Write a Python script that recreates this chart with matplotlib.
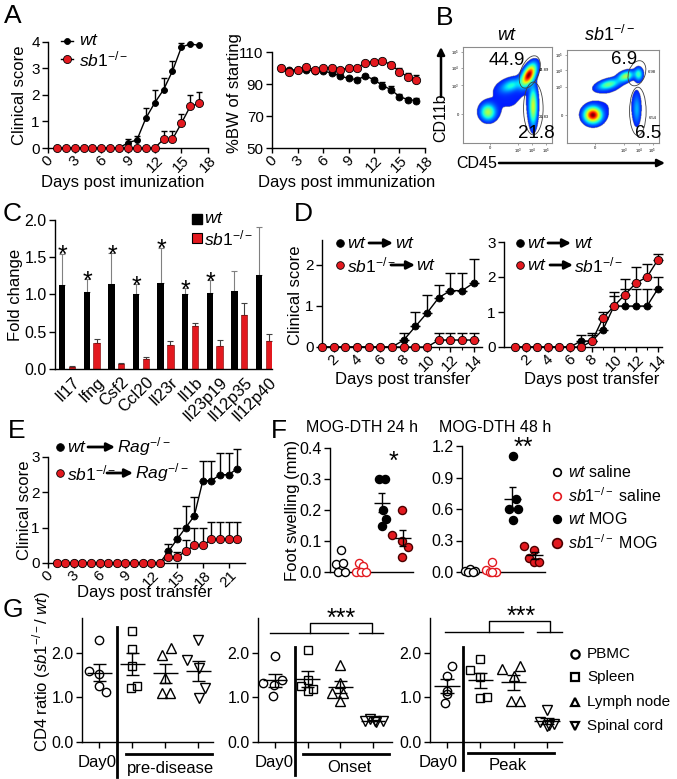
import numpy as np
import matplotlib.pyplot as plt
from matplotlib.patches import Ellipse

plt.rcParams['font.family'] = ['Liberation Sans', 'DejaVu Sans']
plt.rcParams['mathtext.fontset'] = 'custom'
plt.rcParams['mathtext.rm'] = 'Liberation Sans'
plt.rcParams['mathtext.it'] = 'Liberation Sans:italic'
plt.rcParams['mathtext.bf'] = 'Liberation Sans:bold'
plt.rcParams['axes.linewidth'] = 1.0

RED = '#e3191f'
KO = r'$sb1^{-/-}$'

# ---------------- data ----------------
# A  clinical score / body weight
a_days = list(range(1, 18))
a_score_wt = [0, 0, 0, 0, 0, 0, 0, 0, 0.2, 0.3, 1.12, 1.7, 2.2, 2.9, 3.8, 3.93, 3.87]
a_score_wt_err = [0, 0, 0, 0, 0, 0, 0, 0, 0.15, 0.15, 0.4, 0.5, 0.45, 0.38, 0.17, 0, 0]
a_score_ko = [0] * 12 + [0.33, 0.33, 0.93, 1.57, 1.68]
a_score_ko_err = [0] * 12 + [0.31, 0.31, 0.37, 0.43, 0.42]
a_bw_wt = [100, 98.5, 99, 99, 98, 98, 97, 95, 93.5, 92.7, 95, 92.7, 89, 86.5, 82, 80.3, 79.6]
a_bw_wt_err = [0, 0, 0, 0, 0, 0, 0, 0.5, 0.6, 0.8, 0.8, 1.3, 2.0, 2.0, 1.5, 1.2, 1.4]
a_bw_ko = [100, 97.8, 99, 100.5, 99, 100, 100, 99, 100, 100, 103.4, 104, 104.6, 102, 97.8, 94.3, 92.7]
a_bw_ko_err = [0] * 12 + [0.9, 1.5, 2.0, 2.5, 3.0]

# B  flow cytometry populations (x = CD45, y = CD11b, axes units)
b_wt_cells = [(0.28, 0.32, 0.055, 0.055, 0, 0.5),
              (0.74, 0.71, 0.08, 0.04, 60, 1.0),
              (0.54, 0.60, 0.08, 0.04, 20, 0.28),
              (0.79, 0.38, 0.03, 0.13, 0, 0.55),
              (0.50, 0.48, 0.22, 0.18, 0, 0.06)]
b_ko_cells = [(0.28, 0.30, 0.06, 0.055, 0, 1.0),
              (0.45, 0.63, 0.08, 0.032, 15, 0.4),
              (0.64, 0.72, 0.055, 0.032, 20, 0.5),
              (0.78, 0.74, 0.03, 0.045, 0, 0.35),
              (0.76, 0.36, 0.028, 0.11, 0, 0.2),
              (0.50, 0.45, 0.22, 0.18, 0, 0.05)]
b_wt_gates = [(0.75, 0.74, 0.36, 0.2, 65), (0.79, 0.36, 0.22, 0.55, 0)]
b_ko_gates = [(0.76, 0.75, 0.28, 0.18, 70), (0.77, 0.34, 0.18, 0.52, 0)]
b_wt_pct = ['44.9', '21.8', '44.89', '21.83']
b_ko_pct = ['6.9', '6.5', '6.98', '6.54']

# C  qPCR
c_genes = ['Il17', 'Ifng', 'Csf2', 'Ccl20', 'Il23r', 'Il1b', 'Il23p19', 'Il12p35', 'Il12p40']
c_wt = [1.13, 1.03, 1.14, 1.01, 1.16, 1.00, 1.02, 1.05, 1.26]
c_wt_err = [0.42, 0.18, 0.42, 0.13, 0.47, 0.09, 0.17, 0.27, 0.64]
c_ko = [0.03, 0.35, 0.07, 0.14, 0.32, 0.58, 0.31, 0.72, 0.37]
c_ko_err = [0.01, 0.05, 0.015, 0.02, 0.05, 0.04, 0.08, 0.17, 0.10]
c_sig = ['*'] * 7 + ['', '']

# D  adoptive transfer
d_days = list(range(1, 15))
d1_wt = [0] * 7 + [0.17, 0.5, 0.83, 1.2, 1.37, 1.37, 1.56]
d1_wt_err = [0] * 7 + [0.17, 0.35, 0.44, 0.3, 0.44, 0.44, 0.58]
d1_ko = [0] * 10 + [0.17] * 4
d1_ko_err = [0] * 10 + [0.17] * 4
d2_wt = [0] * 6 + [0.17, 0.17, 0.5, 1.17, 1.17, 1.17, 1.17, 1.67]
d2_wt_err = [0] * 6 + [0.17, 0.17, 0.3, 0.4, 0.5, 0.5, 0.5, 0.33]
d2_ko = [0] * 7 + [0.17, 0.83, 1.17, 1.5, 1.83, 2.0, 2.5]
d2_ko_err = [0] * 7 + [0.24, 0.17, 0.3, 0.44, 0.46, 0.37, 0.17]

# E  transfer into Rag-/-
e_days = list(range(1, 23))
e_wt = [0] * 13 + [0.33, 0.67, 1.0, 1.33, 2.33, 2.33, 2.5, 2.5, 2.67]
e_wt_err = [0] * 13 + [0.2, 0.33, 0.6, 0.55, 0.55, 0.55, 0.6, 0.6, 0.55]
e_ko = [0] * 13 + [0.17, 0.17, 0.33, 0.5, 0.5, 0.67, 0.67, 0.67, 0.67]
e_ko_err = [0] * 13 + [0, 0.15, 0.33, 0.5, 0.5, 0.5, 0.5, 0.5, 0.5]

# F  DTH foot swelling (groups: wt saline, sb1 saline, wt MOG, sb1 MOG)
f24_off = [[0.03, -0.2, 0.15, -0.12, 0.22], [-0.1, 0.1, -0.25, 0.0, 0.25],
           [-0.15, 0.13, 0.05, 0.2, 0.0], [-0.05, -0.49, -0.05, 0.25, -0.05]]
f24_val = [[0.07, 0.025, 0.03, 0.0, 0.0], [0.03, 0.02, 0.0, 0.0, 0.0],
           [0.30, 0.30, 0.20, 0.17, 0.15], [0.20, 0.12, 0.10, 0.08, 0.05]]
f48_off = [[-0.12, 0.1, 0.32, 0.0, 0.22], [0.08, -0.2, 0.0, 0.25, 0.08],
           [0.03, 0.16, -0.15, 0.25, 0.03], [-0.48, -0.04, -0.26, -0.04, 0.19]]
f48_val = [[0.01, 0.03, 0.01, 0.0, 0.0], [0.1, 0.02, 0.0, 0.0, 0.0],
           [1.1, 0.7, 0.6, 0.6, 0.5], [0.25, 0.21, 0.13, 0.1, 0.1]]

# G  CD4 ratio (tissues: PBMC, Spleen, Lymph node, Spinal cord)
g_tissues = ['PBMC', 'Spleen', 'Lymph node', 'Spinal cord']
g_pre_val = [[2.28, 1.6, 1.53, 1.26, 1.12], [2.48, 2.08, 1.71, 1.22, 1.25],
             [1.95, 2.1, 1.44, 1.1, 1.1], [2.28, 1.84, 1.66, 1.21, 0.99]]
g_pre_off = [[0, -0.32, 0, 0.0, 0.2], [0, 0, 0, -0.03, 0.15],
             [-0.1, 0.17, 0, -0.1, 0.15], [0, -0.35, 0.03, 0.2, 0.03]]
g_on_val = [[1.32, 1.92, 1.28, 1.39, 1.03], [2.07, 1.26, 1.19, 1.15, 1.39],
            [1.73, 1.1, 1.1, 0.91, 1.33], [0.52, 0.48, 0.48, 0.46, 0.44]]
g_on_off = [[-0.36, 0, -0.03, 0.2, -0.05], [0, -0.2, 0.16, 0, 0],
            [0, -0.25, 0.07, 0, 0], [-0.1, -0.25, 0.05, 0.3, 0.1]]
g_pk_val = [[1.7, 1.47, 1.15, 1.08, 0.87], [1.62, 1.86, 1.45, 0.98, 1.01],
            [1.63, 1.71, 1.47, 0.93, 0.93], [0.72, 0.45, 0.35, 0.4, 0.38]]
g_pk_off = [[0.14, 0, 0, 0, -0.06], [-0.32, 0, 0, -0.02, 0.2],
            [-0.34, 0.19, 0, -0.07, 0.19], [0, -0.22, 0, 0.22, 0.05]]
g_marks = ['o', 's', '^', 'v']

# ---------------- figure ----------------
W, H = 677, 779
fig = plt.figure(figsize=(W / 100, H / 100), dpi=100)
TCK = 11.5
LAB = 12


def box(l, t, r, b):
    return fig.add_axes([l / W, 1 - b / H, (r - l) / W, (b - t) / H])


def style(ax, size=TCK):
    for s in ['top', 'right']:
        ax.spines[s].set_visible(False)
    ax.tick_params(labelsize=size, length=4, width=1, pad=2)


def curve(ax, x, y, err, color, ms, cap, z):
    x, y, err = np.asarray(x, float), np.asarray(y, float), np.asarray(err, float)
    m = err > 0
    ax.errorbar(x[m], y[m], yerr=[np.zeros(m.sum()), err[m]], fmt='none', ecolor='k',
                elinewidth=1, capsize=cap, capthick=1, zorder=z, clip_on=False)
    ax.plot(x, y, '-', color='k', lw=1, marker='o', ms=ms, mfc=color, mec='k',
            mew=0.6, zorder=z + 0.5, clip_on=False)


def rot_labels(ax):
    plt.setp(ax.get_xticklabels(), rotation=45, ha='center')
    ax.tick_params(axis='x', which='major', length=3.5, pad=0.5)
    ax.tick_params(axis='x', which='minor', length=2.5, width=0.8)


# A
axA1 = box(48, 42, 208, 148)
style(axA1, 11)
axA1.set_xlim(0, 18); axA1.set_ylim(0, 4)
axA1.set_xticks(range(0, 19, 3)); axA1.set_yticks(range(5))
rot_labels(axA1)
curve(axA1, a_days, a_score_wt, a_score_wt_err, 'k', 4.3, 2.2, 3)
curve(axA1, a_days, a_score_ko, a_score_ko_err, RED, 5.8, 2.2, 4)

axA2 = box(272, 52, 425, 148)
style(axA2, 11)
axA2.set_xlim(0, 18); axA2.set_ylim(50, 110)
axA2.set_xticks(range(0, 19, 3)); axA2.set_yticks([50, 70, 90, 110])
rot_labels(axA2)
curve(axA2, a_days, a_bw_wt, a_bw_wt_err, 'k', 5, 2.2, 3)
curve(axA2, a_days, a_bw_ko, a_bw_ko_err, RED, 6, 2.2, 4)

# B
gx, gy = np.meshgrid(np.linspace(0, 1, 240), np.linspace(0, 1, 240))


def density(cells):
    z = np.zeros_like(gx)
    for cx, cy, sx, sy, ang, w in cells:
        t = np.deg2rad(ang)
        dx, dy = gx - cx, gy - cy
        u = dx * np.cos(t) + dy * np.sin(t)
        v = -dx * np.sin(t) + dy * np.cos(t)
        z += w * np.exp(-0.5 * ((u / sx) ** 2 + (v / sy) ** 2))
    z = z / z.max()
    return np.ma.masked_where(z < 0.05, z)


for (l, t, r, b), cells, gates, pct in [((463, 47, 552, 143), b_wt_cells, b_wt_gates, b_wt_pct),
                                        ((567, 50, 659, 143), b_ko_cells, b_ko_gates, b_ko_pct)]:
    ax = box(l, t, r, b)
    ax.imshow(density(cells), extent=(0, 1, 0, 1), origin='lower', cmap='jet',
              vmin=-0.12, vmax=1, aspect='auto', interpolation='bilinear')
    for cx, cy, w, h, a in gates:
        ax.add_patch(Ellipse((cx, cy), w, h, angle=a, fill=False, ec='0.25', lw=0.6))
    ax.text(0.97, 0.76, pct[2], fontsize=3, ha='right', va='center')
    ax.text(0.97, 0.27, pct[3], fontsize=3, ha='right', va='center')
    ax.set_xlim(0, 1); ax.set_ylim(0, 1)
    for s in ax.spines.values():
        s.set_color('0.55'); s.set_linewidth(0.8)
    ax.set_xticks([0.3, 0.62, 0.78, 0.93])
    ax.set_xticklabels(['0', r'$10^3$', r'$10^4$', r'$10^5$'])
    ax.set_yticks([0.3, 0.6, 0.78, 0.95])
    ax.set_yticklabels(['0', r'$10^3$', r'$10^4$', r'$10^5$'])
    ax.tick_params(labelsize=3, length=1.5, width=0.5, pad=1, color='0.5')

# C
axC = box(55, 220, 272, 369)
style(axC, 11.5)
xc = np.arange(len(c_genes))
axC.bar(xc - 0.2, c_wt, 0.26, color='k', zorder=2)
axC.bar(xc + 0.2, c_ko, 0.26, color=RED, ec='#7a0000', lw=0.4, zorder=2)
axC.errorbar(xc - 0.2, c_wt, yerr=[np.zeros(len(xc)), c_wt_err], fmt='none',
             ecolor='0.5', elinewidth=0.8, capsize=2, capthick=0.8, zorder=1)
axC.errorbar(xc + 0.2, c_ko, yerr=[np.zeros(len(xc)), c_ko_err], fmt='none',
             ecolor='0.25', elinewidth=0.8, capsize=2, capthick=0.8, zorder=1)
for i, s in enumerate(c_sig):
    if s:
        axC.annotate(s, (i - 0.17, c_wt[i] + c_wt_err[i]), xytext=(0, -7),
                     textcoords='offset points', ha='center', va='baseline', fontsize=18)
axC.set_xlim(-0.49, 8.33); axC.set_ylim(0, 2)
axC.set_yticks([0, 0.5, 1.0, 1.5, 2.0])
axC.set_yticklabels(['0.0', '0.5', '1.0', '1.5', '2.0'])
axC.set_xticks(xc + 0.2)
axC.set_xticklabels(c_genes, rotation=45, ha='right', rotation_mode='anchor', fontsize=12)
axC.tick_params(axis='x', length=0, pad=4)

# D
axD1 = box(322, 240, 482, 347)
style(axD1, 11)
axD1.set_xlim(1, 14.7); axD1.set_ylim(0, 2.6)
axD1.set_xticks(range(2, 15, 2)); axD1.set_xticks(range(1, 15), minor=True)
axD1.set_yticks([0, 1, 2])
rot_labels(axD1)
curve(axD1, d_days, d1_wt, d1_wt_err, 'k', 5, 3.6, 3)
curve(axD1, d_days, d1_ko, d1_ko_err, RED, 6, 3.6, 4)

axD2 = box(504, 242, 662, 347)
style(axD2, 11)
axD2.set_xlim(0, 14.36); axD2.set_ylim(0, 3)
axD2.set_xticks(range(2, 15, 2)); axD2.set_xticks(range(1, 15), minor=True)
axD2.set_yticks([0, 1, 2, 3])
rot_labels(axD2)
curve(axD2, d_days, d2_wt, d2_wt_err, 'k', 5, 3.6, 3)
curve(axD2, d_days, d2_ko, d2_ko_err, RED, 6, 3.6, 4)

# E
axE = box(48, 457, 245, 563)
style(axE, 11)
axE.set_xlim(0, 22.9); axE.set_ylim(0, 3)
axE.set_xticks(range(0, 22, 3)); axE.set_yticks([0, 1, 2, 3])
rot_labels(axE)
curve(axE, e_days, e_wt, e_wt_err, 'k', 5, 2.9, 3)
curve(axE, e_days, e_ko, e_ko_err, RED, 6, 2.9, 4)

# F
f_face = ['white', 'white', 'k', RED]
f_edge = ['k', RED, 'k', '#4a0000']


def dth(ax, offs, vals):
    for g in range(4):
        x = g + 1 + np.array(offs[g])
        ax.scatter(x, vals[g], s=34, c=f_face[g], edgecolors=f_edge[g], linewidths=1,
                   zorder=3, clip_on=False)
        if g >= 2:
            m = np.mean(vals[g]); se = np.std(vals[g], ddof=1) / np.sqrt(len(vals[g]))
            ax.hlines(m, g + 1 - 0.38, g + 1 + 0.38, color='k', lw=1, zorder=4)
            ax.vlines(g + 1, m - se, m + se, color='k', lw=1, zorder=4)
            ax.hlines([m - se, m + se], g + 1 - 0.17, g + 1 + 0.17, color='k', lw=1, zorder=4)


axF1 = box(330, 448, 413, 572)
style(axF1)
axF1.set_xlim(0.5, 4.5); axF1.set_ylim(0, 0.4)
axF1.set_xticks([])
axF1.set_yticks([0, 0.1, 0.2, 0.3, 0.4])
axF1.set_yticklabels(['0.0', '0.1', '0.2', '0.3', '0.4'])
dth(axF1, f24_off, f24_val)

axF2 = box(462, 446, 545, 572)
style(axF2)
axF2.set_xlim(0.75, 4.45); axF2.set_ylim(0, 1.2)
axF2.set_xticks([])
axF2.set_yticks([0, 0.3, 0.6, 0.9, 1.2])
axF2.set_yticklabels(['0.0', '0.3', '0.6', '0.9', '1.2'])
dth(axF2, f48_off, f48_val)

# G
g_ms = [6, 5.5, 6.5, 6.5]


def ratio(ax, vals, offs):
    for g in range(4):
        x = g + 1 + np.array(offs[g])
        ax.plot(x, vals[g], ls='none', marker=g_marks[g], ms=g_ms[g], mfc='none',
                mec='k', mew=1, zorder=3, clip_on=False)
        m = np.mean(vals[g]); se = np.std(vals[g], ddof=1) / np.sqrt(len(vals[g]))
        ax.hlines(m, g + 1 - 0.38, g + 1 + 0.38, color='k', lw=1, zorder=4)
        ax.vlines(g + 1, m - se, m + se, color='k', lw=1, zorder=4)
        ax.hlines([m - se, m + se], g + 1 - 0.2, g + 1 + 0.2, color='k', lw=1, zorder=4)


for (l, r, xl), vals, offs in [((82, 213, (0.48, 4.45)), g_pre_val, g_pre_off),
                               ((258, 392, (0.48, 4.58)), g_on_val, g_on_off),
                               ((430, 562, (0.49, 4.45)), g_pk_val, g_pk_off)]:
    ax = box(l, 618, r, 742)
    style(ax)
    ax.set_xlim(*xl); ax.set_ylim(0, 2.78)
    ax.set_yticks([0, 1, 2]); ax.set_yticklabels(['0.0', '1.0', '2.0'])
    ax.set_xticks([1, 2, 3, 4]); ax.set_xticklabels([])
    ratio(ax, vals, offs)

# ---------------- overlay annotations (pixel coords) ----------------
ov = fig.add_axes([0, 0, 1, 1])
ov.set_xlim(0, W); ov.set_ylim(H, 0); ov.axis('off')


def t(x, y, s, size=LAB, **kw):
    kw.setdefault('ha', 'center'); kw.setdefault('va', 'center')
    ov.text(x, y, s, fontsize=size, **kw)


def arrow(x1, y1, x2, y2, lw=2, ms=12):
    ov.annotate('', xy=(x2, y2), xytext=(x1, y1),
                arrowprops=dict(arrowstyle='-|>', lw=lw, color='k', mutation_scale=ms,
                                shrinkA=0, shrinkB=0))


def dot(x, y, color, ms=5, line=False):
    if line:
        ov.plot([x - 6, x + 6], [y, y], color='k', lw=1)
    ov.plot([x], [y], 'o', ms=ms, mfc=color, mec='k', mew=0.6)


for s, x, y in [('A', 13, 16), ('B', 445, 18), ('C', 12, 214), ('D', 303, 214),
                ('E', 17, 431), ('F', 279, 431), ('G', 13, 610)]:
    t(x, y, s, 19)

# A labels / legend
t(20, 95, 'Clinical score', rotation=90)
t(123, 182, 'Days post imunization')
t(234, 93, '%BW of starting', rotation=90)
t(347, 182, 'Days post immunization')
dot(67, 41, 'k', 4.3, True); dot(67, 59, RED, 5.8, True)
t(79, 40, r'$wt$', 12.5, ha='left')
t(79, 59, KO, 12.5, ha='left')

# B labels
t(507, 35, r'$wt$', 13); t(609, 35, KO, 13)
t(507, 60, b_wt_pct[0], 13.5); t(536, 133, b_wt_pct[1], 13.5)
t(624, 59, b_ko_pct[0], 13.5); t(648, 133, b_ko_pct[1], 13.5)
t(441, 118, 'CD11b', 11.5, rotation=90)
arrow(441, 97, 441, 47, lw=1.8, ms=11)
t(477, 163, 'CD45', 11.5)
arrow(499, 163, 665, 163, lw=1.8, ms=11)

# C labels
t(16, 295, 'Fold change', rotation=90)
ov.plot([197], [219], 's', ms=6.5, mfc='k', mec='k')
ov.plot([197], [238], 's', ms=6.5, mfc=RED, mec='k', mew=0.8)
t(204, 218, r'$wt$', 12.5, ha='left')
t(204, 238, KO, 12.5, ha='left')

# D labels / legends
t(296, 295, 'Clinical score', rotation=90)
t(403, 379, 'Days post transfer')
t(592, 379, 'Days post transfer')
for (x0, y0, c, a, xa1, xa2, b, xb) in [
        (340, 243, 'k', r'$wt$', 369, 393, r'$wt$', 395),
        (340, 265, RED, KO, 391, 415, r'$wt$', 416),
        (520, 243, 'k', r'$wt$', 548, 571, r'$wt$', 574),
        (520, 265, RED, r'$wt$', 550, 573, KO, 574),
        (60, 447, 'k', r'$wt$', 88, 115, r'$Rag^{-/-}$', 117),
        (60, 473, RED, KO, 107, 133, r'$Rag^{-/-}$', 135)]:
    dot(x0, y0, c, 5.5)
    t(x0 + 7, y0, a, 12.5, ha='left')
    arrow(xa1, y0, xa2, y0)
    t(xb, y0, b, 12.5, ha='left')

# E labels
t(25, 510, 'Clinical score', rotation=90)
t(145, 593, 'Days post transfer')

# F labels
t(293, 510, 'Foot swelling (mm)', rotation=90)
t(362, 427, 'MOG-DTH 24 h', 11.5)
t(495, 427, 'MOG-DTH 48 h', 11.5)
t(393, 462, '*', 18)
t(523, 448, '**', 18)
f_leg = [r'$wt$ saline', KO + ' saline', r'$wt$ MOG', KO + ' MOG']
for i, (lab, y) in enumerate(zip(f_leg, [472, 496, 519, 543])):
    ov.plot([557], [y], 'o', ms=7 if i == 3 else 5.5, mfc=f_face[i], mec=f_edge[i], mew=1.2)
    t(568, y, lab, 11.5, ha='left')

# G labels
t(42, 672, r'CD4 ratio ($sb1^{-/-}$/ $wt$)', rotation=90)
for x, yt, yb in [(117, 627, 777), (295, 647, 775), (463, 647, 770)]:
    ov.plot([x, x], [yt, yb], color='k', lw=2)
for x1, x2, y in [(126, 212, 754), (303, 389, 754), (468, 554, 753)]:
    ov.plot([x1, x2], [y, y], color='k', lw=2)
for x, lab in [(97, 'Day0'), (274, 'Day0'), (438, 'Day0')]:
    t(x, 762, lab)
t(170, 768, 'pre-disease'); t(349, 767, 'Onset'); t(508, 766, 'Peak')
for (xa, xb, xm, xr, xs1, xs2, yl, yh, xst) in [(270, 348, 310, 372, 359, 383, 633, 623, 341),
                                                  (445, 523, 489, 550, 537, 562, 632, 621, 521)]:
    ov.plot([xa, xb], [yl, yl], color='k', lw=1)
    ov.plot([xm, xm, xr, xr], [yl, yh, yh, yl], color='k', lw=1)
    ov.plot([xs1, xs2], [yl, yl], color='k', lw=1)
    t(xst, yh - 4, '***', 18)
for i, (lab, y) in enumerate(zip(g_tissues, [654, 677, 702, 726])):
    ov.plot([575], [y], g_marks[i], ms=6, mfc='none', mec='k', mew=1.6)
    t(587, y, lab, 11, ha='left')

fig.savefig('out.png', dpi=100)
